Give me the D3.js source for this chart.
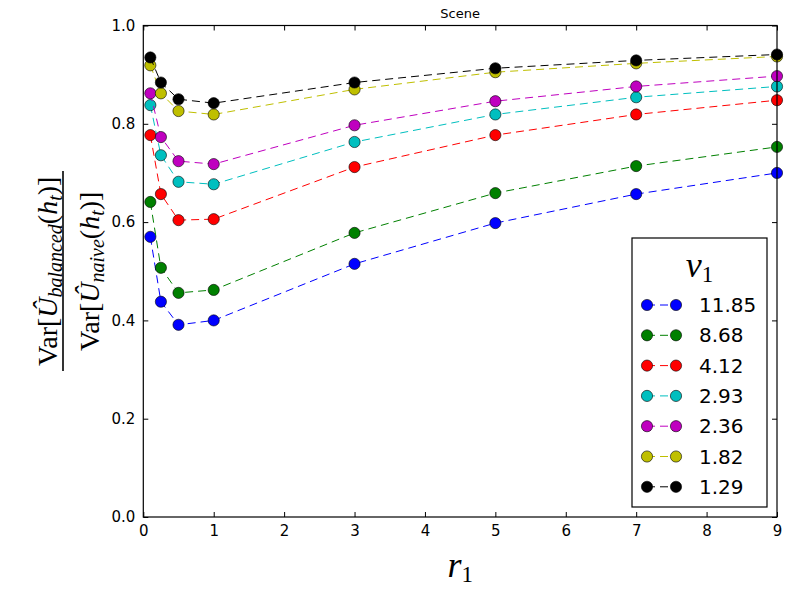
<!DOCTYPE html>
<html>
<head>
<meta charset="utf-8">
<script src="https://cdn.jsdelivr.net/npm/d3@7"></script>
<style>
body { margin: 0; background: #fff; }
svg { display: block; }
</style>
</head>
<body>
<svg id="chart" width="800" height="600"></svg>
<script>
const xValues = [0.1, 0.25, 0.5, 1, 3, 5, 7, 9];
const seriesLabels = ["11.85", "8.68", "4.12", "2.93", "2.36", "1.82", "1.29"];
const seriesColors = ["#0000ff", "#008000", "#ff0000", "#00bfbf", "#bf00bf", "#bfbf00", "#000000"];
const s1185 = [0.570, 0.438, 0.391, 0.400, 0.515, 0.598, 0.657, 0.700];
const s868  = [0.641, 0.507, 0.456, 0.462, 0.578, 0.659, 0.714, 0.753];
const s412  = [0.777, 0.657, 0.604, 0.606, 0.712, 0.777, 0.819, 0.848];
const s293  = [0.838, 0.736, 0.682, 0.677, 0.763, 0.819, 0.854, 0.876];
const s236  = [0.862, 0.773, 0.724, 0.718, 0.797, 0.846, 0.876, 0.897];
const s182  = [0.919, 0.862, 0.826, 0.819, 0.870, 0.905, 0.923, 0.937];
const s129  = [0.935, 0.884, 0.850, 0.842, 0.884, 0.913, 0.929, 0.941];
const seriesValues = [s1185, s868, s412, s293, s236, s182, s129];
const xTicks = [0, 1, 2, 3, 4, 5, 6, 7, 8, 9];
const yTicks = [0.0, 0.2, 0.4, 0.6, 0.8, 1.0];

const svg = d3.select("#chart");
const L = 143.3, R = 777, T = 25.5, B = 517;
const x = d3.scaleLinear().domain([0, 9]).range([L, R]);
const y = d3.scaleLinear().domain([0, 1]).range([B, T]);

// ticks (inside, all four sides)
const tickLen = 5;
const fmtY = d3.format(".1f");
const ax = svg.append("g");
ax.append("g").attr("transform", `translate(0,${B})`)
  .call(d3.axisBottom(x).tickValues(xTicks).tickSizeInner(-tickLen).tickSizeOuter(0).tickPadding(8).tickFormat(d3.format("d")));
ax.append("g").attr("transform", `translate(0,${T})`)
  .call(d3.axisTop(x).tickValues(xTicks).tickSizeInner(-tickLen).tickSizeOuter(0).tickFormat(""));
ax.append("g").attr("transform", `translate(${L},0)`)
  .call(d3.axisLeft(y).tickValues(yTicks).tickSizeInner(-tickLen).tickSizeOuter(0).tickPadding(8).tickFormat(fmtY));
ax.append("g").attr("transform", `translate(${R},0)`)
  .call(d3.axisRight(y).tickValues(yTicks).tickSizeInner(-tickLen).tickSizeOuter(0).tickFormat(""));
ax.selectAll(".domain").remove();
ax.selectAll(".tick line").attr("stroke", "#000").attr("stroke-width", 1);
ax.selectAll(".tick text").attr("font-family", "DejaVu Sans").attr("font-size", 15).attr("fill", "#000");

// series
const line = d3.line().x((d, i) => x(xValues[i])).y(d => y(d));
seriesValues.forEach((vals, k) => {
  const g = svg.append("g");
  g.append("path").datum(vals).attr("d", line)
    .attr("fill", "none").attr("stroke", seriesColors[k]).attr("stroke-width", 1)
    .attr("stroke-dasharray", "8,5");
  g.selectAll("circle").data(vals).join("circle")
    .attr("cx", (d, i) => x(xValues[i])).attr("cy", d => y(d)).attr("r", 5.6)
    .attr("fill", seriesColors[k]).attr("stroke", "#000").attr("stroke-width", 0.6);
});

// frame
svg.append("rect").attr("x", L).attr("y", T).attr("width", R - L).attr("height", B - T)
  .attr("fill", "none").attr("stroke", "#000").attr("stroke-width", 1.2);

// title
svg.append("text").attr("x", (L + R) / 2).attr("y", 18).attr("text-anchor", "middle")
  .attr("font-family", "DejaVu Sans").attr("font-size", 13).text("Scene");

// x label r_1
const xl = svg.append("text").attr("x", (L + R) / 2).attr("y", 577).attr("text-anchor", "middle")
  .attr("font-family", "Liberation Serif").attr("font-size", 36);
xl.append("tspan").attr("font-style", "italic").text("r");
xl.append("tspan").attr("font-size", 23).attr("dy", 5).text("1");

// y label fraction
const cy = (T + B) / 2;
const yl = svg.append("g").attr("transform", "rotate(-90)")
  .attr("font-family", "Liberation Serif");
function fracPart(bx, sub) {
  const t = yl.append("text").attr("x", -cy).attr("y", bx).attr("text-anchor", "middle").attr("font-size", 28);
  t.append("tspan").text("Var[");
  t.append("tspan").attr("font-style", "italic").text("Û");
  t.append("tspan").attr("font-style", "italic").attr("font-size", 20).attr("dy", 5).text(sub);
  t.append("tspan").attr("dy", -5).text("(");
  t.append("tspan").attr("font-style", "italic").text("h");
  t.append("tspan").attr("font-style", "italic").attr("font-size", 20).attr("dy", 5).text("t");
  t.append("tspan").attr("dy", -5).text(")]");
}
fracPart(57, "balanced");
fracPart(99, "naive");
svg.append("line").attr("x1", 63).attr("x2", 63).attr("y1", 171).attr("y2", 371)
  .attr("stroke", "#000").attr("stroke-width", 1.6);

// legend
const lg = svg.append("g");
lg.append("rect").attr("x", 632).attr("y", 238).attr("width", 135).attr("height", 269)
  .attr("fill", "#fff").attr("stroke", "#000").attr("stroke-width", 1.2);
const lt = lg.append("text").attr("x", 699.5).attr("y", 277).attr("text-anchor", "middle")
  .attr("font-family", "Liberation Serif").attr("font-size", 36);
lt.append("tspan").attr("font-style", "italic").text("v");
lt.append("tspan").attr("font-size", 23).attr("dy", 5).text("1");
seriesLabels.forEach((lab, k) => {
  const ry = 305 + k * 30.3;
  lg.append("line").attr("x1", 647).attr("x2", 676).attr("y1", ry).attr("y2", ry)
    .attr("stroke", seriesColors[k]).attr("stroke-width", 1).attr("stroke-dasharray", "8,5");
  [647, 676].forEach(cx => lg.append("circle").attr("cx", cx).attr("cy", ry).attr("r", 5.6)
    .attr("fill", seriesColors[k]).attr("stroke", "#000").attr("stroke-width", 0.6));
  lg.append("text").attr("x", 699).attr("y", ry + 7).attr("font-family", "DejaVu Sans")
    .attr("font-size", 20).text(lab);
});
</script>
</body>
</html>
